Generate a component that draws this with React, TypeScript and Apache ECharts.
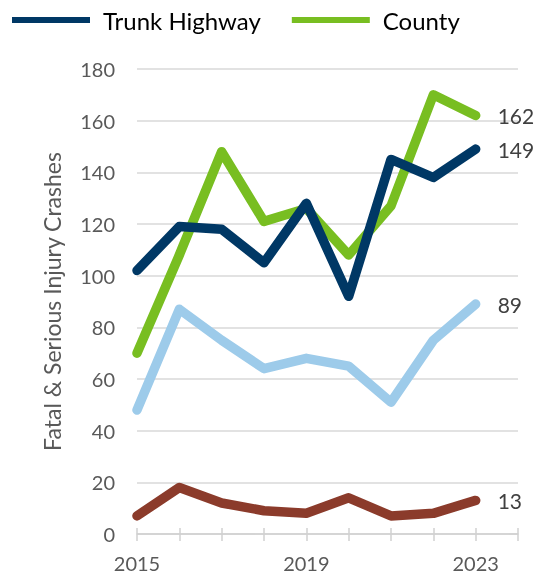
import React, { useEffect, useRef } from "react";
import * as echarts from "echarts";

const years = [2015, 2016, 2017, 2018, 2019, 2020, 2021, 2022, 2023];
const xTickLabels = [2015, 2019, 2023];
const trunkHighway = [102, 119, 118, 105, 128, 92, 145, 138, 149];
const county = [70, 108, 148, 121, 126, 108, 127, 170, 162];
const lightBlueSeries = [48, 87, 75, 64, 68, 65, 51, 75, 89];
const brownSeries = [7, 18, 12, 9, 8, 14, 7, 8, 13];

const FONT = "Lato, 'Open Sans', sans-serif";

function toPairs(vals: number[]) {
  return years.map((y, i) => [y, vals[i]]);
}

export default function App() {
  const ref = useRef<HTMLDivElement>(null);
  useEffect(() => {
    if (!ref.current) return;
    const chart = echarts.init(ref.current, null, { renderer: "svg" });
    const mk = (name: string, vals: number[], color: string) => ({
      name,
      type: "line",
      data: toPairs(vals),
      symbol: "none",
      lineStyle: { width: 9.5, color, cap: "round", join: "round" },
      itemStyle: { color },
      endLabel: {
        show: true,
        formatter: (p: any) => String(p.value[1]),
        color: "#404040",
        fontSize: 21,
        fontFamily: FONT,
        distance: 22,
      },
    });
    const axisGray = "#d0d0d0";
    chart.setOption({
      animation: false,
      legend: {
        data: ["Trunk Highway", "County"],
        top: 3,
        left: 7,
        icon: "rect",
        itemWidth: 78,
        itemHeight: 6,
        itemGap: 31,
        textStyle: {
          fontSize: 24,
          color: "#000",
          fontFamily: FONT,
          padding: [0, 0, 0, 8],
        },
      },
      grid: { left: 137, right: 18, top: 69, bottom: 44 },
      xAxis: [
        {
          type: "value",
          min: 2015,
          max: 2024,
          interval: 1,
          splitLine: { show: false },
          axisLine: { show: true, lineStyle: { color: axisGray, width: 1.5 } },
          axisTick: { show: true, length: 7, lineStyle: { color: axisGray, width: 1.5 } },
          axisLabel: {
            fontSize: 20,
            color: "#595959",
            fontFamily: FONT,
            margin: 19,
            formatter: (v: number) => (xTickLabels.includes(v) ? String(v) : ""),
          },
        },
        {
          type: "value",
          position: "bottom",
          min: 2015,
          max: 2024,
          interval: 1,
          splitLine: { show: false },
          axisLine: { show: false },
          axisTick: { show: true, inside: true, length: 6, lineStyle: { color: axisGray, width: 1.5 } },
          axisLabel: { show: false },
        },
      ],
      yAxis: {
        type: "value",
        min: 0,
        max: 180,
        interval: 20,
        name: "Fatal & Serious Injury Crashes",
        nameLocation: "middle",
        nameGap: 74,
        nameTextStyle: { fontSize: 23, color: "#595959", fontFamily: FONT },
        axisLine: { show: false },
        axisTick: { show: false },
        axisLabel: { fontSize: 20, color: "#595959", fontFamily: FONT, margin: 22 },
        splitLine: { lineStyle: { color: "#d9d9d9", width: 1.5 } },
      },
      series: [
        mk("Other", brownSeries, "#8B3B2B"),
        mk("City", lightBlueSeries, "#9DCBEA"),
        mk("County", county, "#78BE21"),
        mk("Trunk Highway", trunkHighway, "#003865"),
      ],
    });
    return () => chart.dispose();
  }, []);
  return (
    <div
      ref={ref}
      style={{ position: "fixed", left: 0, top: 0, width: 536, height: 578 }}
    />
  );
}
